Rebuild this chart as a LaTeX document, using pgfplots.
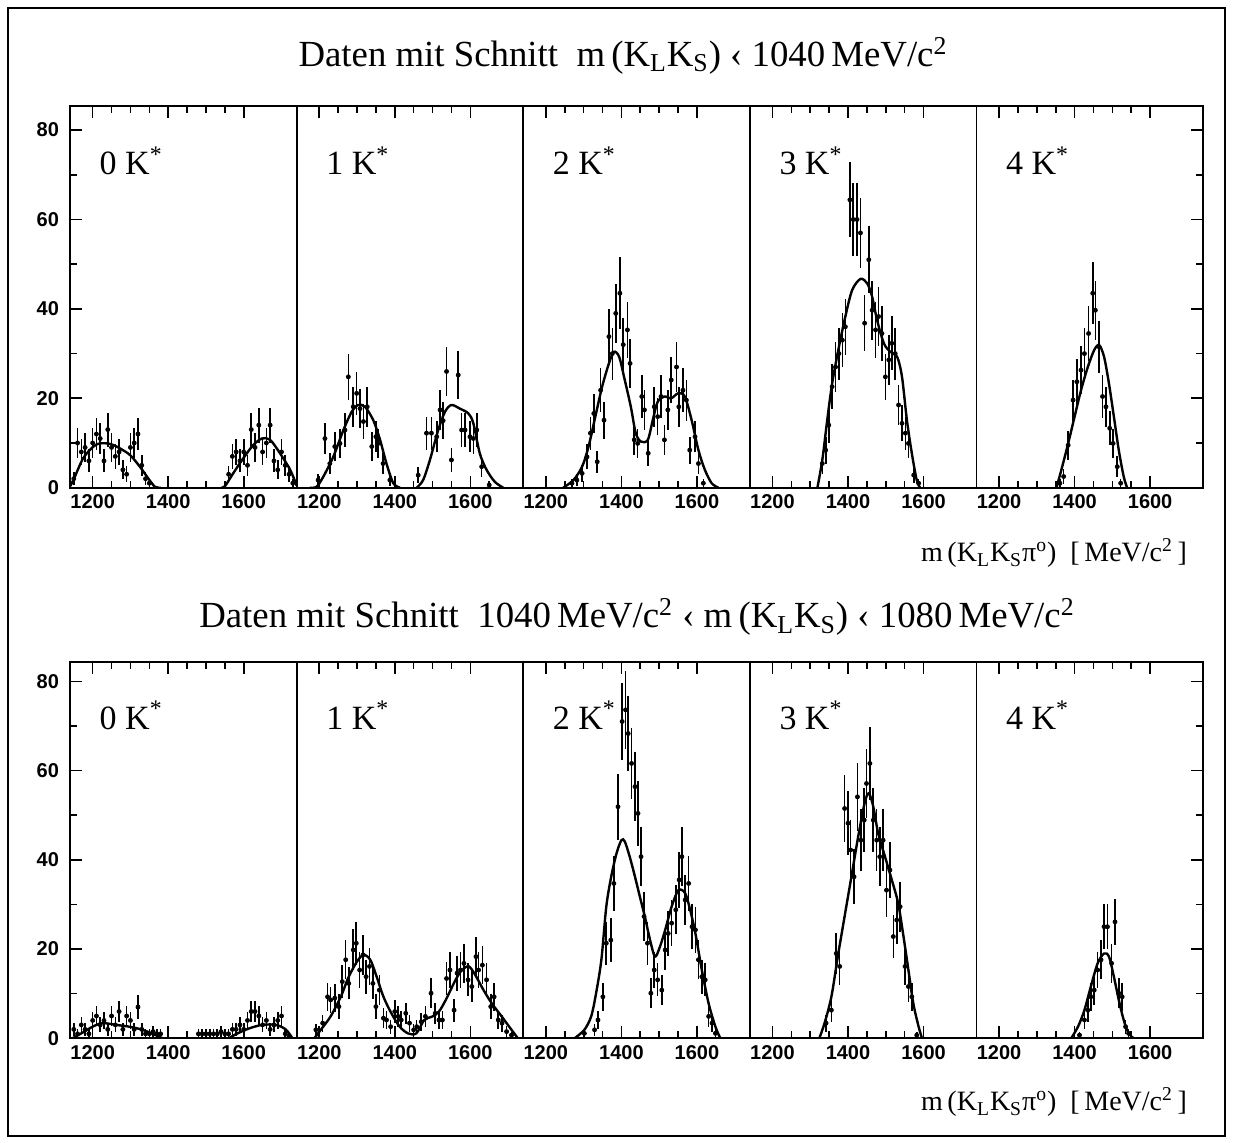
\documentclass[border=0pt]{standalone}
\usepackage{fontspec}
\setmainfont{Liberation Serif}
\newfontfamily\ticksf{Liberation Sans}
\usepackage{pgfplots}
\pgfplotsset{compat=1.18}
\pgfplotsset{
 panel/.style={
   scale only axis, width=113.3pt, xmin=1140, xmax=1740,
   xtick={1200,1400,1600}, minor x tick num=3,
   scaled x ticks=false, scaled y ticks=false,
   /pgf/number format/1000 sep={},
   /pgf/number format/assume math mode=true,
   major tick length=6pt, minor tick length=3.5pt,
   tick style={line width=0.8pt, black},
   axis line style={line width=0.9pt},
   ticklabel style={font=\ticksf\bfseries\fontsize{10}{12}\selectfont},
   xtick pos=both, xticklabel pos=lower,
   ytick=\empty,
 },
 toprow/.style={height=190.85pt, ymin=0, ymax=85.4},
 botrow/.style={height=188.3pt, ymin=0, ymax=84.4},
 yfirst/.style={ytick={0,20,40,60,80}, minor y tick num=1, ytick pos=left, yticklabel style={xshift=-2pt}},
 ylast/.style={ytick={0,20,40,60,80}, minor y tick num=1, ytick pos=right, yticklabel style={opacity=0}},
 dat/.style={black, only marks, mark=*, mark size=1pt,
   error bars/.cd, y dir=both, y explicit, x dir=both, x fixed=4,
   error mark=none, error bar style={line width=0.8pt}},
 fit/.style={black, no marks, smooth, line width=1.2pt},
}
\newcommand{\plab}[1]{\node[anchor=base west, font=\fontsize{17}{20}\selectfont] at (rel axis cs:0.1,0.82) {#1 K\textsuperscript{*}};}
\begin{document}
\begin{tikzpicture}
\path[use as bounding box] (0,0) rectangle (616.5pt,571.5pt);
\draw[line width=1pt] (4pt,3.5pt) rectangle (612.5pt,567.5pt);
\node[anchor=base, font=\fontsize{18.4}{22}\selectfont] at (311.5pt,538.2pt) {Daten mit Schnitt\ \ m\,(K\textsubscript{L}K\textsubscript{S}) ‹ 1040\,MeV/c\textsuperscript{2}};
\node[anchor=base, font=\fontsize{18.4}{22}\selectfont] at (318.5pt,257.5pt) {Daten mit Schnitt\ \ 1040\,MeV/c\textsuperscript{2} ‹ m\,(K\textsubscript{L}K\textsubscript{S}) ‹ 1080\,MeV/c\textsuperscript{2}};
\node[anchor=base east, font=\fontsize{14}{17}\selectfont] at (597pt,290.5pt) {m\,(K\textsubscript{L}K\textsubscript{S}π\textsuperscript{o})\ \ [\,MeV/c\textsuperscript{2}\,]};
\node[anchor=base east, font=\fontsize{14}{17}\selectfont] at (597pt,16pt) {m\,(K\textsubscript{L}K\textsubscript{S}π\textsuperscript{o})\ \ [\,MeV/c\textsuperscript{2}\,]};

% ================= TOP ROW =================
\begin{axis}[panel, toprow, yfirst, anchor=south west, at={(35pt,327.65pt)}]
\addplot[dat] table[row sep=\\, x index=0, y index=1, y error index=2]{
1150 2 1.5\\ 1160 10 3.3\\ 1170 8 3.0\\ 1180 9 3.2\\ 1190 6 2.6\\ 1200 10 3.3\\ 1210 12 3.6\\ 1220 11 3.5\\ 1230 6 2.6\\ 1240 13 3.8\\ 1250 9 3.2\\ 1260 7 2.8\\ 1270 8 3.0\\ 1280 4 2.1\\ 1290 3 1.8\\ 1300 9 3.2\\ 1310 10 3.3\\ 1320 12 3.6\\ 1330 5 2.3\\ 1340 2 1.5\\ 1350 1 1.0\\
1560 3 1.8\\ 1570 7 2.8\\ 1580 8 3.0\\ 1590 6 2.6\\ 1600 8 3.0\\ 1610 5 2.3\\ 1620 13 3.8\\ 1630 9 3.2\\ 1640 14 3.9\\ 1650 8 3.0\\ 1660 10 3.3\\ 1670 14 3.9\\ 1680 6 2.6\\ 1690 4 2.1\\ 1700 8 3.0\\ 1710 5 2.3\\ 1720 3 1.8\\ 1730 1 1.0\\
};
\addplot[fit] coordinates {(1140,0.3)(1149,1.7)(1175,6.6)(1202,9.2)(1219,9.9)(1246,9.8)(1272,8.8)(1299,7.3)(1325,4.7)(1347,2.1)(1365,0.2)(1380,0)};
\addplot[fit] coordinates {(1540,0)(1550,0.3)(1572,3.2)(1599,6.6)(1625,9.5)(1648,11)(1670,10.7)(1696,7.7)(1723,4)(1740,0.5)};
\plab{0}
\end{axis}

\begin{axis}[panel, toprow, anchor=south west, at={(148.3pt,327.65pt)}]
\addplot[dat] table[row sep=\\, x index=0, y index=1, y error index=2]{
1197 1.7 1.4\\ 1215 11 3.5\\ 1228 5.4 2.4\\ 1241 9.2 3.2\\ 1255 9.9 3.3\\ 1268 12.9 3.8\\ 1277 24.8 5.2\\ 1290 18.1 4.5\\ 1299 21.1 4.8\\ 1308 17.7 4.4\\ 1317 14.8 4.0\\ 1327 18.1 4.5\\ 1339 9.2 3.2\\ 1350 11.4 3.5\\ 1356 9.9 3.3\\ 1369 5.4 2.4\\ 1387 1.7 1.4\\
1462 2.8 1.8\\ 1484 12.2 3.7\\ 1497 12.2 3.7\\ 1511 11.4 3.5\\ 1520 17.4 4.4\\ 1528 15 4.1\\ 1537 26 5.4\\ 1550 6.2 2.6\\ 1568 25.2 5.3\\ 1577 12.9 3.8\\ 1586 12.9 3.8\\ 1599 11.4 3.5\\ 1608 11 3.5\\ 1617 12.9 3.8\\ 1630 4.7 2.3\\ 1650 0.6 0.8\\
};
\addplot[fit] coordinates {(1175,0)(1193,0.2)(1211,2.5)(1237,6.9)(1264,12.9)(1286,17)(1303,18.5)(1321,18.1)(1343,15.1)(1361,10.7)(1378,5.4)(1396,1)(1414,0)};
\addplot[fit] coordinates {(1458,0)(1475,1.7)(1493,6.2)(1515,12.9)(1533,17)(1550,18.5)(1572,17.7)(1595,16.6)(1608,14.4)(1625,7.7)(1643,4)(1665,1.3)(1687,0)};
\plab{1}
\end{axis}

\begin{axis}[panel, toprow, anchor=south west, at={(261.6pt,327.65pt)}]
\addplot[dat] table[row sep=\\, x index=0, y index=1, y error index=2]{
1269 1 1.0\\ 1282 1.7 1.4\\ 1296 3.2 1.9\\ 1309 6.9 2.8\\ 1318 12.2 3.7\\ 1327 16.6 4.3\\ 1336 5.8 2.5\\ 1345 21.8 4.9\\ 1354 15.1 4.1\\ 1367 33.8 6.1\\ 1376 30 5.8\\ 1385 39 6.6\\ 1396 43.5 8.0\\ 1405 32 6.0\\ 1416 35.3 6.2\\ 1423 27.8 5.5\\ 1434 10.7 3.4\\ 1443 9.9 3.3\\ 1454 20.4 4.7\\ 1461 17.4 4.4\\ 1471 7.7 2.9\\ 1487 18.1 4.5\\ 1496 15.9 4.2\\ 1505 20.4 4.7\\ 1514 10.7 3.4\\ 1523 17.4 4.4\\ 1532 24.1 5.2\\ 1546 27 5.5\\ 1552 18.1 4.5\\ 1563 21.8 4.9\\ 1572 19.6 4.6\\ 1581 8.4 3.0\\ 1595 11.4 3.5\\ 1604 5.4 2.4\\ 1617 1 1.0\\
};
\addplot[fit] coordinates {(1246,0)(1273,1.7)(1296,4.7)(1313,9.2)(1331,15.9)(1349,22.6)(1367,27.8)(1380,30.4)(1394,29.3)(1407,24.8)(1425,18.1)(1438,12.2)(1452,10.3)(1470,10.7)(1483,15.1)(1496,19.2)(1514,20.4)(1532,20)(1550,21.1)(1568,20.4)(1586,15.1)(1604,8.4)(1621,4)(1639,1)(1657,0)};
\plab{2}
\end{axis}

\begin{axis}[panel, toprow, anchor=south west, at={(374.9pt,327.65pt)}]
\addplot[dat] table[row sep=\\, x index=0, y index=1, y error index=2]{
1332 5.4 2.4\\ 1341 8.4 3.0\\ 1349 14 3.9\\ 1358 22.6 5.0\\ 1367 27 5.5\\ 1376 30 5.8\\ 1385 33 6.0\\ 1393 36 6.3\\ 1405 64.4 8.4\\ 1414 60 8.1\\ 1424 60 8.1\\ 1433 57 7.9\\ 1444 36.8 6.3\\ 1455 51 7.5\\ 1464 39.7 6.6\\ 1473 35.3 6.2\\ 1481 38.3 6.5\\ 1490 34.5 6.2\\ 1499 24.8 5.2\\ 1508 28.6 5.6\\ 1516 32.3 6.0\\ 1525 30 5.8\\ 1534 18.5 4.5\\ 1543 14.4 4.0\\ 1552 12.2 3.7\\ 1560 9.9 3.3\\ 1574 2.8 1.8\\ 1587 1 1.0\\
};
\addplot[fit] coordinates {(1319,0)(1332,6.2)(1345,15.1)(1358,23.3)(1376,31.5)(1393,38.3)(1411,44.2)(1433,46.7)(1451,45.7)(1464,42.7)(1477,37.5)(1495,32.3)(1512,30.4)(1530,29.3)(1543,24.8)(1556,15.1)(1569,7.7)(1582,1.7)(1591,0)};
\plab{3}
\end{axis}

\begin{axis}[panel, toprow, ylast, anchor=south west, at={(488.2pt,327.65pt)}]
\addplot[dat] table[row sep=\\, x index=0, y index=1, y error index=2]{
1361 1 1.0\\ 1371 2.5 1.7\\ 1383 9.5 3.2\\ 1396 19.6 4.6\\ 1406 23.7 5.1\\ 1417 26.3 5.4\\ 1426 30 5.8\\ 1437 34.5 6.2\\ 1448 43.5 6.9\\ 1455 39.7 6.6\\ 1465 31.5 5.9\\ 1474 20.4 4.7\\ 1483 18.1 4.5\\ 1493 13.3 3.8\\ 1502 9.9 3.3\\ 1513 4.7 2.3\\ 1522 1 1.0\\
};
\addplot[fit] coordinates {(1352,0)(1365,4)(1383,9.9)(1400,15.9)(1417,21.8)(1435,27)(1452,30.8)(1465,31.9)(1478,29.3)(1491,23.3)(1504,15.9)(1517,8.4)(1530,2.5)(1539,0)};
\plab{4}
\end{axis}

% ================= BOTTOM ROW =================
\begin{axis}[panel, botrow, yfirst, anchor=south west, at={(35pt,52.35pt)}]
\addplot[dat] table[row sep=\\, x index=0, y index=1, y error index=2]{
1150 2 1.4\\ 1160 1 1.0\\ 1170 3 1.7\\ 1180 2 1.4\\ 1190 1 1.0\\ 1200 4 2.0\\ 1210 5 2.2\\ 1220 3 1.7\\ 1230 4 2.0\\ 1240 2 1.4\\ 1250 5 2.2\\ 1260 3 1.7\\ 1270 6 2.4\\ 1280 2 1.4\\ 1290 5 2.2\\ 1300 4 2.0\\ 1310 2 1.4\\ 1320 7 2.6\\ 1330 2 1.4\\ 1340 1 1.0\\ 1350 1 1.0\\ 1360 1.5 1.2\\ 1370 1 1.0\\ 1380 1 1.0\\
1480 1 1.0\\ 1490 1 1.0\\ 1500 1 1.0\\ 1510 1 1.0\\ 1520 1 1.0\\ 1530 1 1.0\\ 1540 1.5 1.2\\ 1550 1 1.0\\ 1560 1 1.0\\ 1570 2 1.4\\ 1580 2 1.4\\ 1590 3 1.7\\ 1600 2 1.4\\ 1610 4 2.0\\ 1620 6 2.4\\ 1630 6 2.4\\ 1640 5 2.2\\ 1650 3 1.7\\ 1660 4 2.0\\ 1670 2 1.4\\ 1680 3 1.7\\ 1690 4 2.0\\ 1700 5 2.2\\ 1710 1 1.0\\ 1720 0.5 0.7\\
};
\addplot[fit] coordinates {(1147,0)(1174,1.3)(1200,2.6)(1226,3.4)(1262,3)(1297,2.6)(1332,1.9)(1367,0.7)(1385,0)};
\addplot[fit] coordinates {(1561,0)(1579,0.9)(1614,2.2)(1649,3)(1685,3)(1711,2)(1729,0)};
\plab{0}
\end{axis}

\begin{axis}[panel, botrow, anchor=south west, at={(148.3pt,52.35pt)}]
\addplot[dat] table[row sep=\\, x index=0, y index=1, y error index=2]{
1191 1.9 1.4\\ 1209 3.4 1.9\\ 1222 9.3 3.2\\ 1230 8.6 3.0\\ 1241 9 3.1\\ 1252 7.1 2.8\\ 1261 12.7 3.7\\ 1270 17.6 4.4\\ 1278 12.3 3.6\\ 1290 19.8 4.6\\ 1298 21.3 4.8\\ 1307 15.3 4.0\\ 1316 18.7 4.5\\ 1324 13.8 3.8\\ 1333 16.1 4.2\\ 1342 12.3 3.6\\ 1350 7.1 2.8\\ 1359 10.8 3.4\\ 1370 4.5 2.2\\ 1378 4.1 2.1\\ 1389 2.6 1.6\\ 1400 6 2.5\\ 1409 4.9 2.3\\ 1417 4.1 2.1\\ 1429 5.6 2.4\\ 1439 3.4 1.9\\ 1450 1.9 1.4\\ 1458 2.6 1.6\\ 1470 3.7 2.0\\ 1481 4.9 2.3\\ 1496 10.1 3.3\\ 1507 5.6 2.4\\ 1517 4.1 2.1\\ 1526 4.1 2.1\\ 1537 13.4 3.8\\ 1546 15.3 4.0\\ 1557 6.3 2.6\\ 1565 14.6 3.9\\ 1574 15.3 4.0\\ 1583 16.8 4.3\\ 1594 13.1 3.7\\ 1604 11.6 3.5\\ 1615 18.3 4.4\\ 1622 15.3 4.0\\ 1632 16.4 4.2\\ 1643 13.1 3.7\\ 1654 7.1 2.8\\ 1663 9.3 3.2\\ 1674 4.1 2.1\\ 1684 3.4 1.9\\ 1696 1.5 1.2\\ 1709 0.7 0.8\\
};
\addplot[fit] coordinates {(1187,0)(1204,1.9)(1230,4.9)(1257,9.3)(1278,13.8)(1300,17.2)(1317,18.7)(1335,17.6)(1352,13.8)(1370,9.3)(1391,5.6)(1413,2.6)(1435,1.1)(1457,1.1)(1478,4.1)(1500,4.9)(1517,6)(1535,8.6)(1561,13.1)(1578,15.3)(1596,16.1)(1613,14.2)(1635,10.8)(1657,7.8)(1683,4.9)(1709,1.9)(1726,0)};
\plab{1}
\end{axis}

\begin{axis}[panel, botrow, anchor=south west, at={(261.6pt,52.35pt)}]
\addplot[dat] table[row sep=\\, x index=0, y index=1, y error index=2]{
1302 1.1 1.0\\ 1329 1.9 1.4\\ 1338 4.1 2.1\\ 1351 9.3 3.2\\ 1360 21.3 4.8\\ 1372 22 4.9\\ 1380 34.7 6.1\\ 1391 51.9 7.4\\ 1402 71 8.6\\ 1411 73.6 8.8\\ 1418 68.3 8.5\\ 1427 61.6 8.0\\ 1436 56.4 7.7\\ 1444 50.4 7.3\\ 1452 40.7 6.6\\ 1460 27.3 5.4\\ 1469 21.3 4.8\\ 1478 10.1 3.3\\ 1487 15.3 4.0\\ 1496 13.1 3.7\\ 1507 10.8 3.4\\ 1516 19.8 4.6\\ 1524 23.5 5.0\\ 1533 25.8 5.2\\ 1544 28.8 5.5\\ 1553 35.5 6.2\\ 1560 40.7 6.6\\ 1569 31 5.7\\ 1578 34.7 6.1\\ 1587 25 5.1\\ 1596 24.3 5.1\\ 1604 17.6 4.4\\ 1613 13.8 3.8\\ 1622 13.1 3.7\\ 1631 4.9 2.3\\ 1640 3.4 1.9\\ 1649 1.1 1.0\\
};
\addplot[fit] coordinates {(1276,0)(1302,1.9)(1320,4.9)(1333,10.1)(1347,17.6)(1360,29.5)(1373,36.2)(1387,41.4)(1400,44.4)(1409,44.1)(1422,40.7)(1436,36.2)(1449,31.7)(1462,27.3)(1476,22)(1489,18.3)(1502,20.5)(1516,24.3)(1533,29.5)(1551,33.2)(1569,32.5)(1582,28.8)(1596,23.5)(1613,15.3)(1631,7.8)(1649,2.6)(1662,0)};
\plab{2}
\end{axis}

\begin{axis}[panel, botrow, anchor=south west, at={(374.9pt,52.35pt)}]
\addplot[dat] table[row sep=\\, x index=0, y index=1, y error index=2]{
1342 3.4 1.9\\ 1356 6.3 2.6\\ 1369 19 4.5\\ 1378 16.1 4.2\\ 1391 51.5 7.4\\ 1400 48.2 7.2\\ 1407 42.2 6.7\\ 1416 36.2 6.2\\ 1425 54.1 7.6\\ 1434 44.4 6.9\\ 1443 48.9 7.2\\ 1449 57.1 7.8\\ 1458 61.6 8.1\\ 1467 48.9 7.2\\ 1476 44.4 6.9\\ 1484 40.7 6.6\\ 1493 44.4 6.9\\ 1502 33.2 6.0\\ 1511 37.7 6.3\\ 1520 22.8 4.9\\ 1529 26.5 5.3\\ 1538 29.5 5.6\\ 1551 16.1 4.2\\ 1560 11.6 3.5\\ 1569 9.3 3.2\\ 1582 0.7 0.8\\
};
\addplot[fit] coordinates {(1324,0)(1338,3.4)(1356,9.3)(1373,18.3)(1391,27.3)(1409,36.2)(1427,45.2)(1444,52.7)(1455,54.9)(1467,51.9)(1480,45.9)(1498,40.7)(1516,35.5)(1533,30.2)(1547,22.8)(1560,15.3)(1573,7.8)(1587,2.6)(1596,0)};
\plab{3}
\end{axis}

\begin{axis}[panel, botrow, ylast, anchor=south west, at={(488.2pt,52.35pt)}]
\addplot[dat] table[row sep=\\, x index=0, y index=1, y error index=2]{
1413 0.7 0.8\\ 1426 4.1 2.1\\ 1435 6.3 2.6\\ 1443 9.3 3.2\\ 1452 10.8 3.4\\ 1461 15.3 4.0\\ 1470 17.6 4.4\\ 1478 25 5.1\\ 1487 25 5.1\\ 1498 16.8 4.3\\ 1507 26.1 5.2\\ 1517 10.1 3.3\\ 1526 9.3 3.2\\ 1535 2.6 1.6\\ 1543 1.1 1.0\\
};
\addplot[fit] coordinates {(1391,0)(1409,2.6)(1426,6.3)(1443,11.6)(1461,16.8)(1478,19)(1491,18.3)(1504,13.8)(1517,8.6)(1530,4.1)(1543,1.1)(1557,0)};
\plab{4}
\end{axis}
\end{tikzpicture}
\end{document}
